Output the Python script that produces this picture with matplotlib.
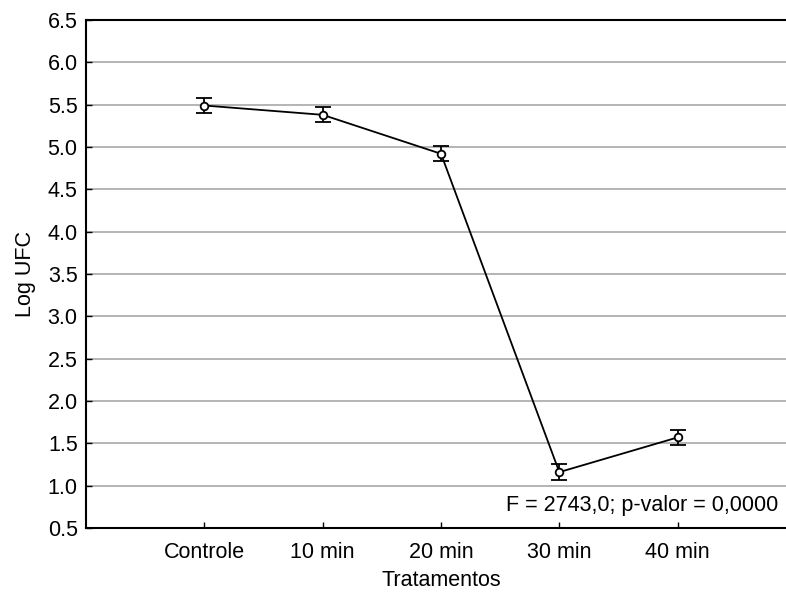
import matplotlib
matplotlib.use("Agg")
import matplotlib.pyplot as plt

plt.rcParams['font.family'] = ['Liberation Sans', 'DejaVu Sans']

tratamentos = ["Controle", "10 min", "20 min", "30 min", "40 min"]
log_ufc = [5.49, 5.38, 4.92, 1.16, 1.57]
erro = [0.09, 0.09, 0.09, 0.09, 0.09]
y_ticks = [0.5, 1.0, 1.5, 2.0, 2.5, 3.0, 3.5, 4.0, 4.5, 5.0, 5.5, 6.0, 6.5]

fig = plt.figure(figsize=(7.86, 5.94), dpi=100)
# axes runs off the right edge of the figure like the original
ax = fig.add_axes([86/786, 1 - 528/594, 710/786, 508/594])

x = list(range(len(tratamentos)))
ax.errorbar(x, log_ufc, yerr=erro, color="black", lw=1.3, marker="o",
            ms=5.5, mfc="white", mec="black", mew=1.3, capsize=6, capthick=1.3,
            elinewidth=1.3, zorder=3)

ax.set_xlim(-1, 5)
ax.set_ylim(0.5, 6.5)
ax.set_yticks(y_ticks)
ax.set_yticklabels([f"{v:.1f}" for v in y_ticks])
ax.set_xticks(x)
ax.set_xticklabels(tratamentos)
ax.yaxis.grid(True, color="#a8a8a8", lw=1.2)
ax.set_axisbelow(True)
ax.tick_params(axis="both", direction="in", length=4, width=1, labelsize=15.5)
ax.tick_params(axis="y", pad=6)
ax.tick_params(axis="x", pad=10)
for s in ["left", "bottom", "top"]:
    ax.spines[s].set_linewidth(1.5)
ax.spines["right"].set_visible(False)

ax.set_xlabel("Tratamentos", fontsize=15.5, labelpad=5)
ax.set_ylabel("Log UFC", fontsize=15.5, labelpad=8)

ax.text(778/786, 1 - 511/594, "F = 2743,0; p-valor = 0,0000", transform=fig.transFigure,
        ha="right", va="baseline", fontsize=15.5)

fig.savefig("out.png", dpi=100)
